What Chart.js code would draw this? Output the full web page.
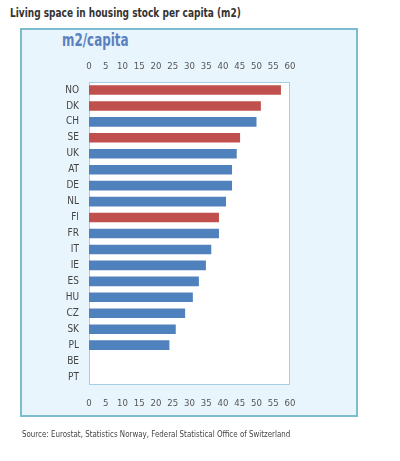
<!DOCTYPE html>
<html>
<head>
<meta charset="utf-8">
<script src="https://cdn.jsdelivr.net/npm/chart.js@4"></script>
<style>
    body { margin: 0; background: #fff; }
    #wrap { position: relative; width: 400px; height: 461px; overflow: hidden; }
    .narrow { transform-origin: 0 0; white-space: nowrap; }
    #title {
        position: absolute; left: 10px; top: 5px;
        font: bold 12.5px "DejaVu Sans Condensed", "Liberation Sans Narrow", sans-serif;
        color: #333; transform: scaleX(0.8);
    }
    #panel {
        position: absolute; left: 20px; top: 28px; width: 338px; height: 389px;
        box-sizing: border-box; border: 2px solid #7dbccf; background: #e8f5fc;
    }
    #unit {
        position: absolute; left: 62px; top: 30px;
        font: bold 17px "DejaVu Sans Condensed", "Liberation Sans Narrow", sans-serif;
        color: #5b80c0; transform: scaleX(0.78);
    }
    #source {
        position: absolute; left: 22px; top: 428px;
        font: 9.5px "DejaVu Sans Condensed", "Liberation Sans Narrow", sans-serif;
        color: #444; transform: scaleX(0.83);
    }
    canvas { position: absolute; left: 0; top: 0; }
</style>
</head>
<body>
<div id="wrap">
    <div id="title" class="narrow">Living space in housing stock per capita (m2)</div>
    <div id="panel"></div>
    <div id="unit" class="narrow">m2/capita</div>
    <canvas id="barChart" width="400" height="461"></canvas>
    <div id="source" class="narrow">Source: Eurostat, Statistics Norway, Federal Statistical Office of Switzerland</div>
</div>
<script>
// countries, top to bottom
var countries = ["NO", "DK", "CH", "SE", "UK", "AT", "DE", "NL", "FI", "FR", "IT", "IE", "ES", "HU", "CZ", "SK", "PL", "BE", "PT"];
// m2 per capita (BE, PT have no value)
var livingSpace = [57.3, 51.3, 50.0, 45.1, 44.1, 42.7, 42.7, 40.9, 38.8, 38.8, 36.5, 34.9, 32.8, 31.0, 28.7, 25.9, 24.0, null, null];
var nordic = ["NO", "DK", "SE", "FI"];
var tickValues = [0, 5, 10, 15, 20, 25, 30, 35, 40, 45, 50, 55, 60];

var barColors = countries.map(c => nordic.includes(c) ? "#c0504d" : "#4f81bd");

var font = "'DejaVu Sans Condensed', 'Liberation Sans Narrow', sans-serif";

// white plot box with thin blue border
var plotBox = {
    id: "plotBox",
    beforeDatasetsDraw(chart) {
        var a = chart.chartArea;
        var ctx = chart.ctx;
        ctx.save();
        ctx.fillStyle = "#ffffff";
        ctx.fillRect(a.left, a.top, a.right - a.left, a.bottom - a.top);
        ctx.strokeStyle = "#a6cfe3";
        ctx.lineWidth = 1;
        ctx.strokeRect(a.left + 0.5, a.top + 0.5, a.right - a.left - 1, a.bottom - a.top - 1);
        ctx.restore();
    }
};

function xAxis(pos, pad, h) {
    return {
        type: "linear",
        position: pos,
        min: 0,
        max: 60,
        afterBuildTicks: s => { s.ticks = tickValues.map(v => ({ value: v })); },
        afterFit: s => { s.height = h; },
        grid: { display: false, drawTicks: false },
        border: { display: false },
        ticks: {
            padding: pad,
            maxRotation: 0,
            autoSkip: false,
            color: "#555",
            font: { family: font, size: 9.5 }
        }
    };
}

var ctx = document.getElementById("barChart").getContext("2d");
var chart = new Chart(ctx, {
    type: "bar",
    data: {
        labels: countries,
        datasets: [{
            data: livingSpace,
            backgroundColor: barColors,
            barPercentage: 0.6,
            categoryPercentage: 1.0,
            xAxisID: "x"
        }]
    },
    options: {
        indexAxis: "y",
        responsive: false,
        animation: false,
        layout: { padding: { left: 49, top: 62, right: 110, bottom: 51 } },
        plugins: {
            legend: { display: false },
            tooltip: { enabled: false }
        },
        scales: {
            x: xAxis("bottom", 13, 25),
            x2: xAxis("top", 10, 20),
            y: {
                afterFit: s => { s.width = 40; },
                grid: { display: false, drawTicks: false },
                border: { display: false },
                ticks: {
                    padding: 10,
                    color: "#444",
                    font: { family: font, size: 10 }
                }
            }
        }
    },
    plugins: [plotBox]
});
</script>
</body>
</html>
